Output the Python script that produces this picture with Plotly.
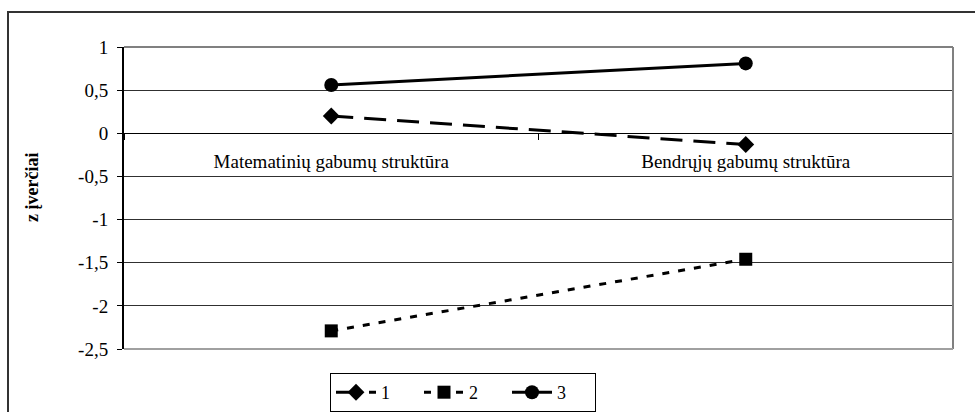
import plotly.graph_objects as go

# Group profiles (z scores) across the two ability structures
categories = ["Matematinių gabumų struktūra", "Bendrųjų gabumų struktūra"]
series_names = ["1", "2", "3"]
group1 = [0.20, -0.13]
group2 = [-2.29, -1.46]
group3 = [0.56, 0.81]
y_ticks = [1, 0.5, 0, -0.5, -1, -1.5, -2, -2.5]
y_tick_labels = ["1", "0,5", "0", "-0,5", "-1", "-1,5", "-2", "-2,5"]

FONT = "'Liberation Serif', 'DejaVu Serif', serif"
W, H = 975, 412
ML, MR, MT, MB = 124, 22, 47, 63
Y_MIN, Y_MAX = -2.5, 1.0

fig = go.Figure()

styles = [
    (group1, "diamond", 13, "22px,11px"),
    (group2, "square", 13, "7px,9px"),
    (group3, "circle", 14, "solid"),
]
for name, (vals, sym, size, dash) in zip(series_names, styles):
    fig.add_trace(go.Scatter(
        x=categories, y=vals, name=name, mode="lines+markers",
        line=dict(color="black", width=3, dash=dash),
        marker=dict(symbol=sym, size=size, color="black"),
    ))

zero_pos = (0 - Y_MIN) / (Y_MAX - Y_MIN)
pw, ph = W - ML - MR, H - MT - MB

fig.update_layout(
    width=W, height=H,
    margin=dict(l=ML, r=MR, t=MT, b=MB, autoexpand=False),
    paper_bgcolor="white", plot_bgcolor="white",
    font=dict(family=FONT, size=19, color="black"),
    showlegend=True,
    legend=dict(
        orientation="h", x=(330 - ML) / pw, xanchor="left",
        y=(H - MB - 373) / ph, yanchor="top",
        bordercolor="black", borderwidth=1, bgcolor="white",
        font=dict(family=FONT, size=18), itemwidth=40, entrywidth=33,
        tracegroupgap=0, itemsizing="trace",
    ),
    xaxis=dict(
        type="category", range=[-0.5, 1.5],
        anchor="free", position=zero_pos, automargin=False,
        showline=True, linecolor="black", linewidth=1,
        ticks="outside", tickson="boundaries", ticklen=6, tickcolor="black",
        showgrid=False, zeroline=False, ticklabelstandoff=11,
        tickfont=dict(family=FONT, size=19),
    ),
    yaxis=dict(
        range=[Y_MIN, Y_MAX], tickvals=y_ticks, ticktext=y_tick_labels,
        automargin=False,
        showline=True, linecolor="black", linewidth=2,
        ticks="outside", ticklen=5, tickcolor="black",
        showgrid=True, gridcolor="#303030", gridwidth=1,
        zeroline=False, ticklabelstandoff=5,
        tickfont=dict(family=FONT, size=19),
    ),
)

# grey frame around the plot area (top, right, bottom)
fig.add_shape(type="line", xref="paper", yref="paper", x0=0, x1=1, y0=1, y1=1,
              line=dict(color="#808080", width=2), layer="above")
fig.add_shape(type="line", xref="paper", yref="paper", x0=1, x1=1, y0=0, y1=1,
              line=dict(color="#808080", width=2), layer="above")
fig.add_shape(type="line", xref="paper", yref="paper", x0=0, x1=1, y0=0, y1=0,
              line=dict(color="#a0a0a0", width=2), layer="above")

# outer chart border
fig.add_shape(type="rect", xref="paper", yref="paper",
              x0=(8 - ML) / pw, x1=(W + 10 - ML) / pw,
              y0=(H - MB - (H + 10)) / ph, y1=(H - MB - 12) / ph,
              line=dict(color="#333333", width=2), layer="below")

# y-axis title
fig.add_annotation(
    text="<b>z įverčiai</b>", xref="paper", yref="paper",
    x=(32 - ML) / pw, y=(H - MB - 188) / ph, textangle=-90,
    showarrow=False, font=dict(family=FONT, size=18),
    xanchor="center", yanchor="middle",
)

fig.write_html("out.html")
